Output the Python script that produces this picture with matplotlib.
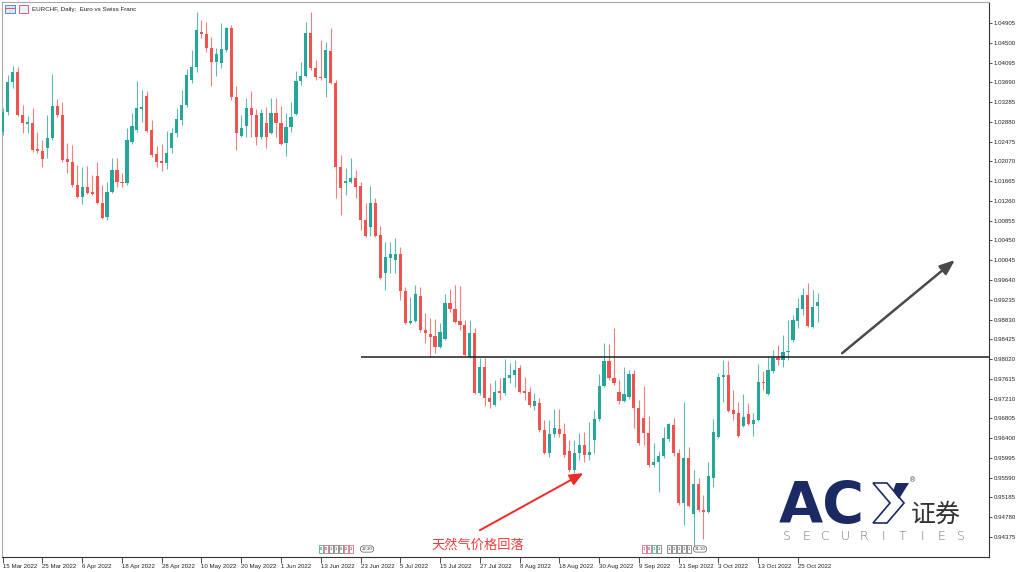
"""EURCHF daily candles (MT5 style) with neckline and ACY logo."""

import matplotlib
matplotlib.use("Agg")
import matplotlib.pyplot as plt
import matplotlib.transforms as mtransforms
import numpy as np
import pandas as pd
from matplotlib.patches import Polygon, Rectangle

# ---- data ----
OPENS = [
    1.0267, 1.0308, 1.0370, 1.0390, 1.0302, 1.0284, 1.0286, 1.0233, 1.0228, 1.0235,
    1.0255, 1.0321, 1.0302, 1.0212, 1.0206, 1.0159, 1.0134, 1.0155, 1.0144, 1.0177,
    1.0122, 1.0093, 1.0144, 1.0190, 1.0165, 1.0163, 1.0247, 1.0272, 1.0315, 1.0341,
    1.0272, 1.0222, 1.0208, 1.0204, 1.0235, 1.0265, 1.0292, 1.0323, 1.0374, 1.0401,
    1.0472, 1.0468, 1.0440, 1.0411, 1.0409, 1.0436, 1.0481, 1.0339, 1.0259, 1.0280,
    1.0317, 1.0302, 1.0257, 1.0286, 1.0265, 1.0306, 1.0286, 1.0245, 1.0278, 1.0304,
    1.0372, 1.0382, 1.0470, 1.0399, 1.0380, 1.0378, 1.0433, 1.0368, 1.0196, 1.0163,
    1.0165, 1.0173, 1.0157, 1.0087, 1.0073, 1.0122, 1.0056, 0.9978, 1.0009, 1.0005,
    1.0017, 0.9941, 0.9876, 0.9880, 0.9931, 0.9862, 0.9853, 0.9849, 0.9827, 0.9843,
    0.9917, 0.9905, 0.9880, 0.9872, 0.9806, 0.9855, 0.9732, 0.9786, 0.9722, 0.9708,
    0.9736, 0.9732, 0.9763, 0.9769, 0.9784, 0.9736, 0.9734, 0.9706, 0.9712, 0.9657,
    0.9609, 0.9648, 0.9659, 0.9648, 0.9613, 0.9575, 0.9609, 0.9626, 0.9605, 0.9636,
    0.9679, 0.9747, 0.9798, 0.9763, 0.9734, 0.9716, 0.9724, 0.9771, 0.9702, 0.9681,
    0.9650, 0.9585, 0.9591, 0.9603, 0.9638, 0.9667, 0.9609, 0.9507, 0.9599, 0.9484,
    0.9546, 0.9493, 0.9488, 0.9558, 0.9642, 0.9765, 0.9769, 0.9698, 0.9691, 0.9665,
    0.9689, 0.9669, 0.9677, 0.9755, 0.9730, 0.9777, 0.9804, 0.9800, 0.9816, 0.9841,
    0.9880, 0.9905, 0.9933, 0.9868, 0.9911,
]
HIGHS = [
    1.0317, 1.0384, 1.0403, 1.0401, 1.0323, 1.0300, 1.0317, 1.0267, 1.0251, 1.0302,
    1.0386, 1.0335, 1.0329, 1.0245, 1.0241, 1.0200, 1.0196, 1.0198, 1.0179, 1.0206,
    1.0159, 1.0165, 1.0214, 1.0214, 1.0183, 1.0276, 1.0306, 1.0372, 1.0353, 1.0351,
    1.0292, 1.0239, 1.0243, 1.0269, 1.0276, 1.0317, 1.0353, 1.0397, 1.0436, 1.0513,
    1.0497, 1.0493, 1.0462, 1.0440, 1.0491, 1.0483, 1.0487, 1.0362, 1.0302, 1.0337,
    1.0351, 1.0315, 1.0315, 1.0319, 1.0337, 1.0337, 1.0321, 1.0306, 1.0329, 1.0392,
    1.0411, 1.0493, 1.0513, 1.0415, 1.0456, 1.0452, 1.0481, 1.0374, 1.0220, 1.0194,
    1.0214, 1.0190, 1.0165, 1.0122, 1.0157, 1.0132, 1.0075, 1.0042, 1.0042, 1.0050,
    1.0032, 0.9950, 0.9929, 0.9954, 0.9950, 0.9896, 0.9886, 0.9884, 0.9876, 0.9935,
    0.9946, 0.9954, 0.9952, 0.9882, 0.9882, 0.9866, 0.9804, 0.9804, 0.9753, 0.9759,
    0.9763, 0.9802, 0.9794, 0.9800, 0.9790, 0.9765, 0.9745, 0.9732, 0.9722, 0.9677,
    0.9677, 0.9700, 0.9700, 0.9671, 0.9636, 0.9636, 0.9650, 0.9652, 0.9673, 0.9698,
    0.9771, 0.9835, 0.9833, 0.9866, 0.9759, 0.9786, 0.9780, 0.9780, 0.9718, 0.9747,
    0.9685, 0.9630, 0.9613, 0.9663, 0.9671, 0.9681, 0.9618, 0.9714, 0.9622, 0.9575,
    0.9558, 0.9523, 0.9591, 0.9679, 0.9773, 0.9800, 0.9798, 0.9739, 0.9714, 0.9730,
    0.9712, 0.9691, 0.9792, 0.9777, 0.9808, 0.9821, 0.9831, 0.9851, 0.9882, 0.9892,
    0.9927, 0.9948, 0.9958, 0.9944, 0.9937,
]
LOWS = [
    1.0261, 1.0302, 1.0358, 1.0300, 1.0265, 1.0265, 1.0226, 1.0224, 1.0196, 1.0214,
    1.0251, 1.0298, 1.0206, 1.0183, 1.0155, 1.0132, 1.0120, 1.0140, 1.0138, 1.0120,
    1.0089, 1.0087, 1.0142, 1.0155, 1.0155, 1.0159, 1.0243, 1.0267, 1.0288, 1.0267,
    1.0216, 1.0196, 1.0187, 1.0192, 1.0224, 1.0257, 1.0282, 1.0319, 1.0368, 1.0390,
    1.0460, 1.0431, 1.0362, 1.0382, 1.0399, 1.0431, 1.0333, 1.0230, 1.0257, 1.0257,
    1.0257, 1.0241, 1.0253, 1.0235, 1.0263, 1.0257, 1.0241, 1.0218, 1.0267, 1.0302,
    1.0364, 1.0380, 1.0394, 1.0374, 1.0374, 1.0339, 1.0366, 1.0132, 1.0097, 1.0138,
    1.0163, 1.0132, 1.0067, 1.0052, 1.0054, 1.0052, 0.9966, 0.9944, 0.9978, 0.9978,
    0.9923, 0.9874, 0.9874, 0.9878, 0.9857, 0.9835, 0.9806, 0.9814, 0.9825, 0.9841,
    0.9898, 0.9876, 0.9862, 0.9808, 0.9804, 0.9730, 0.9728, 0.9706, 0.9702, 0.9706,
    0.9718, 0.9728, 0.9753, 0.9745, 0.9732, 0.9718, 0.9704, 0.9698, 0.9652, 0.9607,
    0.9601, 0.9642, 0.9642, 0.9601, 0.9570, 0.9564, 0.9595, 0.9591, 0.9595, 0.9609,
    0.9675, 0.9745, 0.9759, 0.9749, 0.9710, 0.9714, 0.9720, 0.9661, 0.9626, 0.9626,
    0.9581, 0.9581, 0.9529, 0.9599, 0.9634, 0.9603, 0.9503, 0.9462, 0.9499, 0.9411,
    0.9488, 0.9433, 0.9486, 0.9540, 0.9640, 0.9714, 0.9693, 0.9677, 0.9642, 0.9663,
    0.9667, 0.9644, 0.9675, 0.9739, 0.9728, 0.9773, 0.9790, 0.9786, 0.9800, 0.9837,
    0.9866, 0.9892, 0.9868, 0.9866, 0.9878,
]
CLOSES = [
    1.0308, 1.0370, 1.0390, 1.0302, 1.0286, 1.0288, 1.0230, 1.0228, 1.0212, 1.0255,
    1.0321, 1.0302, 1.0210, 1.0206, 1.0159, 1.0134, 1.0155, 1.0142, 1.0140, 1.0122,
    1.0091, 1.0144, 1.0190, 1.0165, 1.0163, 1.0251, 1.0280, 1.0317, 1.0319, 1.0269,
    1.0220, 1.0206, 1.0204, 1.0224, 1.0265, 1.0294, 1.0323, 1.0384, 1.0401, 1.0477,
    1.0468, 1.0440, 1.0411, 1.0427, 1.0438, 1.0481, 1.0339, 1.0265, 1.0276, 1.0317,
    1.0302, 1.0257, 1.0306, 1.0257, 1.0306, 1.0286, 1.0243, 1.0278, 1.0298, 1.0372,
    1.0382, 1.0470, 1.0399, 1.0380, 1.0378, 1.0436, 1.0368, 1.0196, 1.0153, 1.0167,
    1.0173, 1.0155, 1.0087, 1.0054, 1.0122, 1.0054, 0.9968, 1.0011, 1.0017, 1.0017,
    0.9941, 0.9876, 0.9880, 0.9935, 0.9862, 0.9855, 0.9847, 0.9827, 0.9857, 0.9917,
    0.9905, 0.9878, 0.9872, 0.9810, 0.9855, 0.9732, 0.9786, 0.9722, 0.9714, 0.9734,
    0.9732, 0.9763, 0.9769, 0.9780, 0.9734, 0.9732, 0.9708, 0.9716, 0.9657, 0.9609,
    0.9648, 0.9661, 0.9648, 0.9605, 0.9575, 0.9609, 0.9626, 0.9605, 0.9611, 0.9679,
    0.9747, 0.9798, 0.9763, 0.9753, 0.9716, 0.9730, 0.9771, 0.9702, 0.9630, 0.9650,
    0.9585, 0.9591, 0.9603, 0.9640, 0.9669, 0.9609, 0.9507, 0.9599, 0.9501, 0.9546,
    0.9493, 0.9488, 0.9562, 0.9652, 0.9765, 0.9769, 0.9696, 0.9689, 0.9644, 0.9683,
    0.9669, 0.9677, 0.9755, 0.9753, 0.9780, 0.9804, 0.9800, 0.9816, 0.9818, 0.9882,
    0.9907, 0.9933, 0.9870, 0.9909, 0.9919,
]
DATES = pd.bdate_range("2022-03-15", "2022-10-31")
PRICE_TICKS = [round(1.04905 - 0.00405 * k, 5) for k in range(27)]
NECKLINE = 0.9806
NECKLINE_START = 72

# economic calendar markers along the bottom: bar, digit, edge colour
EVENT_BARS = [64, 65, 66, 67, 68, 69, 70, 129, 130, 131, 132, 134, 135, 136, 137, 138]
EVENT_DIGITS = ["0", "0", "1", "1", "0", "2", "1", "1", "0", "1", "1", "1", "1", "1", "1", "1"]
EVENT_COLORS = ["#2a9d78", "#d0506a", "#666666", "#666666", "#666666", "#d0506a", "#d0506a",
                "#d0506a", "#d0506a", "#2a9d78", "#666666", "#666666", "#666666", "#666666",
                "#666666", "#666666"]
EVENT_TIMES = [(73, "22:30"), (140, "21:30")]

UP = "#26a69a"
DOWN = "#ef5350"
W, H = 1024, 572


def fx(px):
    return px / W


def fy(py):
    return 1 - py / H


plt.rcParams["font.family"] = ["Liberation Sans", "DejaVu Sans"]

fig = plt.figure(figsize=(W / 100, H / 100), dpi=100)
ax = fig.add_axes([fx(2), 15 / H, 987 / W, 555 / H])

o = np.array(OPENS)
c = np.array(CLOSES)
hi = np.array(HIGHS)
lo = np.array(LOWS)
x = np.arange(len(o))
colors = np.where(c >= o, UP, DOWN)

ax.vlines(x, lo, hi, colors=colors, lw=0.8, alpha=0.75, zorder=2)
body = np.maximum(np.abs(c - o), 0.00022)
ax.bar(x, body, bottom=np.minimum(o, c), width=0.64, color=colors, lw=0, zorder=3)

ax.hlines(NECKLINE, NECKLINE_START, 200, color="#1e1e1e", lw=1.1, zorder=4)

ax.set_xlim(-0.14, 198.45)
ax.set_ylim(0.93962, 1.05339)

# date axis
tick_idx = list(range(0, len(DATES), 8))
ax.set_xticks(tick_idx)
ax.set_xticklabels([f"{DATES[i].day} {DATES[i].strftime('%b %Y')}" for i in tick_idx],
                   ha="left", fontsize=4.4, color="#222222")
ax.tick_params(axis="x", direction="out", length=4, width=0.6, pad=1.2, color="#333333")

# price axis
ax.yaxis.tick_right()
ax.set_yticks(PRICE_TICKS)
ax.set_yticklabels([f"{v:.5f}" for v in PRICE_TICKS], fontsize=4.4, color="#222222")
ax.tick_params(axis="y", direction="out", length=2.5, width=0.6, pad=1.0, color="#333333")

for side in ("left", "top"):
    ax.spines[side].set_color("#a8a8a8")
    ax.spines[side].set_linewidth(0.8)
for side in ("right", "bottom"):
    ax.spines[side].set_color("#333333")
    ax.spines[side].set_linewidth(0.8)

# economic calendar boxes
band = mtransforms.blended_transform_factory(ax.transData, ax.transAxes)
y0 = (557 - 553) / 555
for b, d, ec in zip(EVENT_BARS, EVENT_DIGITS, EVENT_COLORS):
    ax.add_patch(Rectangle((b - 0.4, y0), 0.8, 8 / 555, transform=band, fill=False,
                           ec=ec, lw=0.5, zorder=5))
    ax.text(b, y0 + 4 / 555, d, transform=band, ha="center", va="center",
            fontsize=3, color="#333333", zorder=5)
for b, t in EVENT_TIMES:
    ax.text(b + 0.3, y0 + 4 / 555, t, transform=band, ha="center", va="center",
            fontsize=3.2, color="#333333", zorder=5,
            bbox=dict(boxstyle="round,pad=0.25,rounding_size=0.6", fc="white", ec="#555555", lw=0.5))

# annotations
ax.annotate("", xy=(116.8, 0.9568), xytext=(96.0, 0.9451),
            arrowprops=dict(arrowstyle="-|>,head_length=0.8,head_width=0.35",
                            color="#ee2b24", lw=1.4, shrinkA=0, shrinkB=0), zorder=6)
ax.text(95.5, 0.9421, "天然气价格回落", ha="center", va="center", fontsize=9.5,
        color="#f03c3c", family=["Noto Sans CJK SC", "DejaVu Sans"], zorder=6)
ax.annotate("", xy=(191.6, 1.0005), xytext=(168.9, 0.9814),
            arrowprops=dict(arrowstyle="-|>,head_length=0.9,head_width=0.35",
                            color="#4a4a4a", lw=1.8, shrinkA=0, shrinkB=0), zorder=6)

# title bar
fig.text(fx(32), fy(9), "EURCHF, Daily:  Euro vs Swiss Franc", fontsize=4.5,
         color="#222222", va="center", ha="left")
fig.add_artist(Rectangle((fx(5), fy(13)), 10 / W, 8 / H, transform=fig.transFigure,
                         fc="#d9e6f5", ec="#4a78c2", lw=0.6))
fig.add_artist(Rectangle((fx(5), fy(9)), 10 / W, 0.8 / H, transform=fig.transFigure,
                         fc="#e0585a", ec="none"))
fig.add_artist(Rectangle((fx(19), fy(13)), 9 / W, 8 / H, transform=fig.transFigure,
                         fc="#e8f0fa", ec="#d2505a", lw=0.6))

# logo
navy = "#1b2a63"
fig.text(fx(779), fy(523), "AC", fontsize=41, fontweight="heavy", color=navy,
         family="DejaVu Sans", va="baseline", ha="left")
fig.add_artist(Polygon([(fx(873), fy(483)), (fx(887), fy(483)), (fx(904), fy(503)),
                        (fx(887), fy(523)), (fx(873), fy(523)), (fx(890), fy(503))],
                       closed=True, transform=fig.transFigure, fc="white", ec=navy, lw=1.2))
fig.add_artist(Polygon([(fx(896), fy(483)), (fx(909), fy(483)), (fx(899), fy(499)),
                        (fx(893), fy(491))],
                       closed=True, transform=fig.transFigure, fc=navy, ec="none"))
fig.text(fx(910), fy(481), "®", fontsize=5, color="#333333", va="center", ha="left")
fig.text(fx(911), fy(522), "证券", fontsize=18, color="#333333", va="baseline", ha="left",
         family=["Noto Sans CJK SC", "DejaVu Sans"])
for i, ch in enumerate("SECURITIES"):
    fig.text(fx(787 + 19.3 * i), fy(536), ch, fontsize=9, color="#6e6e6e",
             ha="center", va="center", family="DejaVu Sans", fontweight="light")

fig.savefig("out.png", dpi=100, facecolor="white")
